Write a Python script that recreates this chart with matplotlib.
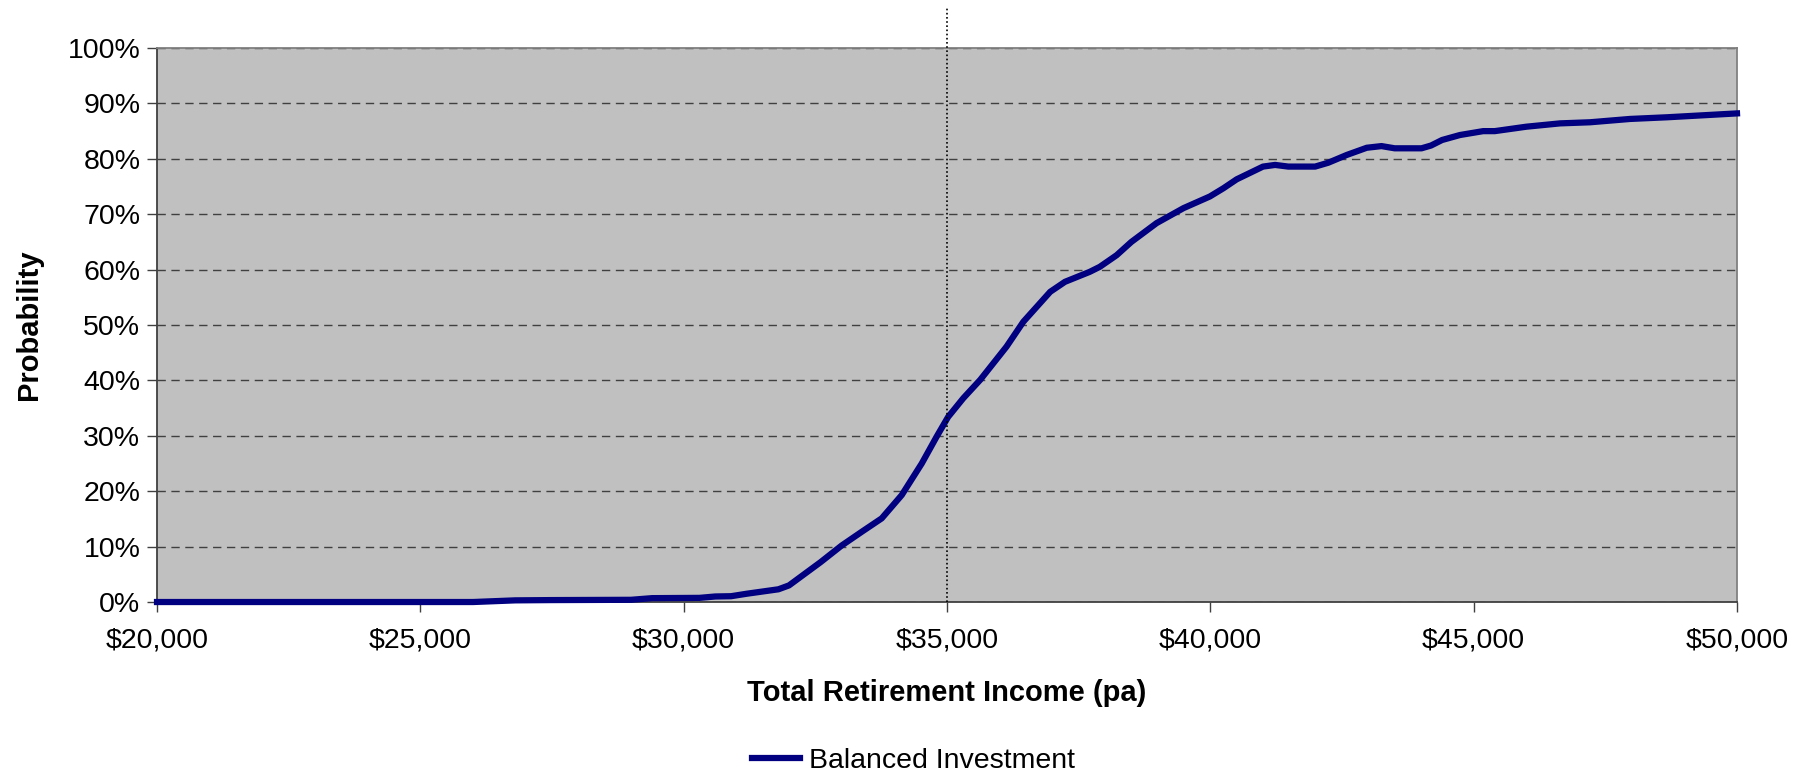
import matplotlib.pyplot as plt
from matplotlib.ticker import FuncFormatter, MultipleLocator

plt.rcParams['font.family'] = ['Liberation Sans', 'DejaVu Sans']

# income (pa) vs probability of reaching it, balanced investment
income = [20000, 26000, 26800, 27500, 29000, 29400, 30300, 30600, 30900, 31200,
          31800, 32000, 32200, 32600, 33000, 33400, 33760, 34140, 34520, 34800,
          35020, 35310, 35630, 36130, 36450, 36960, 37240, 37710, 37900, 38220,
          38500, 38980, 39490, 39990, 40250, 40500, 41000, 41230, 41480, 41990,
          42240, 42590, 42970, 43250, 43500, 44010, 44190, 44400, 44740, 45180,
          45400, 46000, 46640, 47210, 47970, 48670, 50000]
prob = [0.0, 0.0, 0.3, 0.35, 0.4, 0.7, 0.75, 1.0, 1.05, 1.5,
        2.3, 3.0, 4.4, 7.2, 10.2, 12.8, 15.1, 19.3, 25.0, 29.8,
        33.4, 36.8, 40.1, 46.1, 50.6, 56.0, 57.8, 59.6, 60.5, 62.6,
        65.0, 68.4, 71.1, 73.2, 74.7, 76.3, 78.6, 78.9, 78.6, 78.6,
        79.3, 80.7, 82.0, 82.3, 81.9, 81.9, 82.4, 83.4, 84.3, 85.0,
        85.0, 85.8, 86.4, 86.6, 87.2, 87.5, 88.2]
target = 35000

fig = plt.figure(figsize=(18.09, 7.76), dpi=100)
ax = fig.add_axes([0.0868, 0.2242, 0.8734, 0.7139])
ax.set_facecolor('#c0c0c0')

ax.plot(income, prob, color='#000080', lw=4.5, label='Balanced Investment',
        solid_joinstyle='round', zorder=3, clip_on=False)
ax.axvline(target, ymin=0, ymax=1.072, color='black', ls=(0, (1, 1.5)), lw=1.2,
           clip_on=False, zorder=4)

ax.set_xlim(20000, 50000)
ax.set_ylim(0, 100)
ax.xaxis.set_major_locator(MultipleLocator(5000))
ax.yaxis.set_major_locator(MultipleLocator(10))
ax.xaxis.set_major_formatter(FuncFormatter(lambda v, p: '${:,.0f}'.format(v)))
ax.yaxis.set_major_formatter(FuncFormatter(lambda v, p: '{:.0f}%'.format(v)))
ax.yaxis.grid(True, color='#404040', ls=(0, (6, 4)), lw=1)
ax.set_axisbelow(True)

for s in ['left', 'bottom']:
    ax.spines[s].set_color('#404040')
    ax.spines[s].set_linewidth(1.3)
for s in ['top', 'right']:
    ax.spines[s].set_color('#808080')
    ax.spines[s].set_linewidth(1.3)
ax.tick_params(axis='both', direction='out', length=7, width=1, color='#404040',
               labelsize=20.5, pad=5)
ax.tick_params(axis='x', pad=11)

ax.set_xlabel('Total Retirement Income (pa)', fontsize=21, fontweight='bold', labelpad=19)
ax.set_ylabel('Probability', fontsize=21, fontweight='bold', labelpad=18)

leg = fig.legend(loc='center', frameon=False, fontsize=20.5,
                 handlelength=1.7, handletextpad=0.3)
leg.set_bbox_to_anchor((0.505, 0.019), transform=fig.transFigure)

fig.savefig('out.png', dpi=100)
